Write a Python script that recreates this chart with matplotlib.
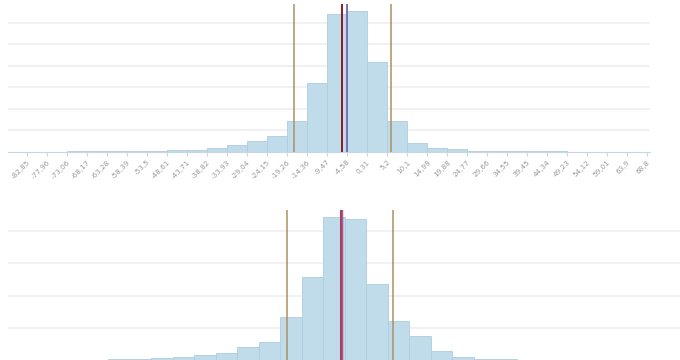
import matplotlib
matplotlib.use("Agg")
import matplotlib.pyplot as plt
import numpy as np

# ---- top histogram ----
top_edges = [-82.85, -77.96, -73.06, -68.17, -63.28, -58.39, -53.5, -48.61, -43.71,
             -38.82, -33.93, -29.04, -24.15, -19.26, -14.36, -9.47, -4.58, 0.31, 5.2,
             10.1, 14.99, 19.88, 24.77, 29.66, 34.55, 39.45, 44.34, 49.23, 54.12,
             59.01, 63.9, 68.8]
top_counts = [0.02, 0.02, 0.03, 0.03, 0.04, 0.05, 0.06, 0.07, 0.09, 0.17, 0.31,
              0.52, 0.76, 1.45, 3.21, 6.42, 6.54, 4.18, 1.45, 0.40, 0.17, 0.12,
              0.06, 0.05, 0.04, 0.03, 0.03, 0.02, 0.02, 0.01, 0.01]
top_tick_labels = [f"{v:g}".replace(".", ",") for v in top_edges]
top_bounds = [-17.54, 6.11]   # gold lines
top_median = -5.80            # dark red line
top_mean = -4.58              # purple line

# ---- bottom histogram (axis not visible: bin index units) ----
bot_edges = list(range(-14, 11))
bot_counts = [0.01, 0.02, 0.03, 0.04, 0.06, 0.08, 0.12, 0.18, 0.25, 0.43, 0.59,
              1.36, 2.59, 4.44, 4.37, 2.37, 1.23, 0.76, 0.30, 0.10, 0.06, 0.04,
              0.02, 0.01]
bot_bounds = [-2.67, 2.25]
bot_median = -0.19
bot_mean = -0.14

W, H = 680, 360
fig = plt.figure(figsize=(W / 100, H / 100), dpi=100)

bar_face = "#c0dbea"
bar_edge = "#adcde0"
grid_c = "#ededed"
gold = "#ad9060"

def px_ax(l, t, r, b):
    return fig.add_axes([l / W, 1 - b / H, (r - l) / W, (b - t) / H])

# top axes
ax1 = px_ax(8, 4, 650, 152)
ax1.bar(top_edges[:-1], top_counts, width=np.diff(top_edges), align="edge",
        color=bar_face, edgecolor=bar_edge, linewidth=0.6, zorder=2)
ax1.set_xlim(-87.5, 69.5)
ax1.set_ylim(0, 6.87)
ax1.set_yticks([1, 2, 3, 4, 5, 6])
ax1.yaxis.grid(True, color=grid_c, linewidth=1.1, zorder=0)
ax1.tick_params(axis="y", left=False, labelleft=False)
ax1.set_xticks(top_edges)
ax1.set_xticklabels(top_tick_labels, rotation=45, ha="right", rotation_mode="anchor",
                    fontsize=5.2, color="#999999")
ax1.tick_params(axis="x", length=3, color="#c8d6de", width=0.8, pad=2)
for s in ["top", "right", "left"]:
    ax1.spines[s].set_visible(False)
ax1.spines["bottom"].set_color("#c8d6de")
for b in top_bounds:
    ax1.axvline(b, color=gold, linewidth=1.1, zorder=3)
ax1.axvline(top_median, color="#8b1c24", linewidth=1.4, zorder=4)
ax1.axvline(top_mean, color="#7a6fb5", linewidth=1.4, zorder=4)

# bottom axes
ax2 = px_ax(8, 210, 680, 360.7)
ax2.bar(bot_edges[:-1], bot_counts, width=1, align="edge",
        color=bar_face, edgecolor=bar_edge, linewidth=0.6, zorder=2)
ax2.set_xlim(-15.67, 15.6)
ax2.set_ylim(0, 4.65)
ax2.set_yticks([1, 2, 3, 4])
ax2.yaxis.grid(True, color=grid_c, linewidth=1.1, zorder=0)
ax2.tick_params(axis="both", left=False, labelleft=False, bottom=False, labelbottom=False)
for s in ax2.spines.values():
    s.set_visible(False)
for b in bot_bounds:
    ax2.axvline(b, color=gold, linewidth=1.1, zorder=3)
ax2.axvline(bot_median, color="#b23a55", linewidth=2.2, zorder=4)
ax2.axvline(bot_mean, color="#9a5f95", linewidth=1.0, zorder=4)

fig.savefig("out.png", dpi=100)
